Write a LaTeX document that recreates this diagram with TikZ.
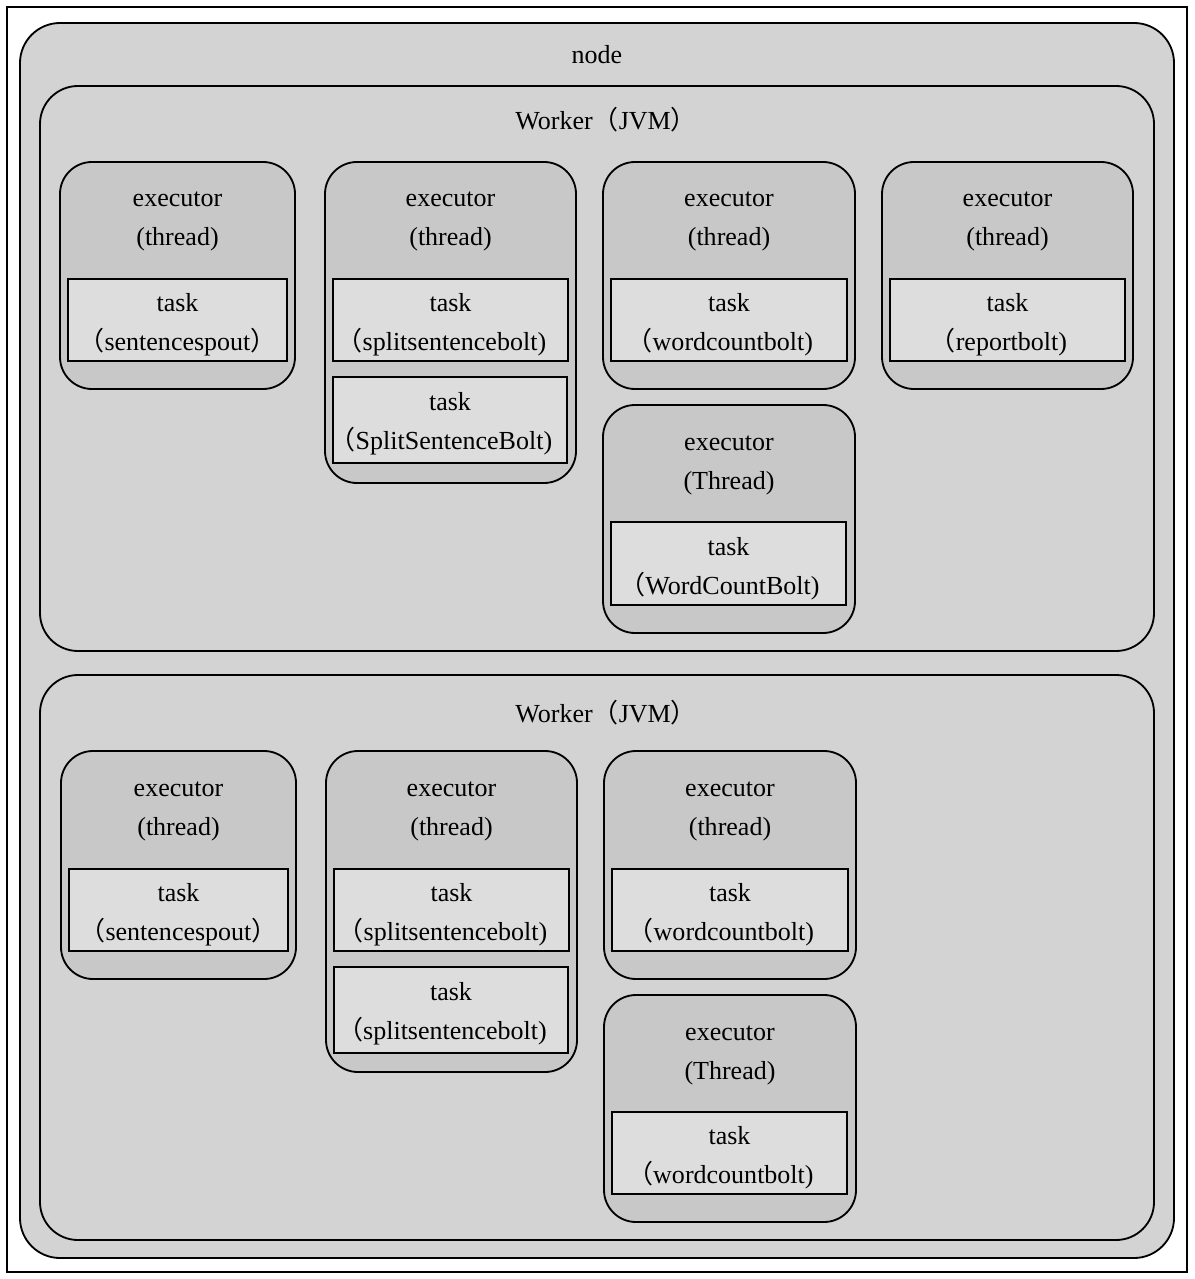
\documentclass[tikz,border=0pt]{standalone}
\usepackage{fontspec}
\setmainfont{Liberation Serif}
\newfontfamily\cjk{Noto Sans CJK SC}
\usetikzlibrary{fit}
\newcommand{\lp}{{\cjk （}}
\newcommand{\rp}{{\cjk ）}}
\newcommand{\hp}{\hspace*{-0.7em}}
\definecolor{nodegray}{HTML}{D3D3D3}
\definecolor{execgray}{HTML}{C8C8C8}
\definecolor{taskgray}{HTML}{DDDDDD}
\tikzset{
  box/.style={draw, line width=1.3pt, inner sep=0pt},
  nodebox/.style={box, fill=nodegray, rounded corners=1cm},
  workerbox/.style={box, fill=nodegray, rounded corners=0.95cm},
  execbox/.style={box, fill=execgray, rounded corners=0.8cm},
  taskbox/.style={box, fill=taskgray},
  txt/.style={align=center, inner sep=0pt, font=\fontsize{18.5}{27.7}\selectfont}
}
\begin{document}
\begin{tikzpicture}[x=0.025cm, y=-0.025cm]
  \useasboundingbox[fill=white] (0,0) rectangle (1194,1279);
  \draw[line width=1.3pt] (7,7) rectangle (1187,1272);
  % node
  \node (n) [nodebox, fit={(20,23) (1174,1258)}] {};
  \node (nt) at (597,55) [txt] {node};
  % first worker
  \node (w1) [workerbox, fit={(40,86) (1154,651)}] {};
  \node (w1t) at (597,120) [txt] {Worker\lp JVM\rp\hp};
  \node (w1e1) [execbox, fit={(60,162) (295,389)}] {};
  \node (w1e2) [execbox, fit={(325,162) (576,483)}] {};
  \node (w1e3) [execbox, fit={(603,162) (855,389)}] {};
  \node (w1e4) [execbox, fit={(882,162) (1133,389)}] {};
  \node (w1e5) [execbox, fit={(603,405) (855,633)}] {};
  \node (w1e1t) at (177.5,221.5) [txt] {executor\\(thread)};
  \node (w1e2t) at (450.5,221.5) [txt] {executor\\(thread)};
  \node (w1e3t) at (729,221.5) [txt] {executor\\(thread)};
  \node (w1e4t) at (1007.5,221.5) [txt] {executor\\(thread)};
  \node (w1e5t) at (729,465) [txt] {executor\\(Thread)};
  \node (w1k1) [taskbox, fit={(68,279) (287,361)}] {};
  \node (w1k2) [taskbox, fit={(333,279) (568,361)}] {};
  \node (w1k3) [taskbox, fit={(333,377) (567,463)}] {};
  \node (w1k4) [taskbox, fit={(611,279) (847,361)}] {};
  \node (w1k5) [taskbox, fit={(890,279) (1125,361)}] {};
  \node (w1k6) [taskbox, fit={(611,522) (846,605)}] {};
  \node (w1k1t) at (177.5,325) [txt] {task\\\lp sentencespout\rp};
  \node (w1k2t) at (450.5,325) [txt] {task\\\hp\lp splitsentencebolt)};
  \node (w1k3t) at (450,424) [txt] {task\\\hp\lp SplitSentenceBolt)};
  \node (w1k4t) at (729,325) [txt] {task\\\hp\lp wordcountbolt)};
  \node (w1k5t) at (1007.5,325) [txt] {task\\\hp\lp reportbolt)};
  \node (w1k6t) at (728.5,568.5) [txt] {task\\\hp\lp WordCountBolt)};
  % second worker
  \node (w2) [workerbox, fit={(40,675) (1154,1240)}] {};
  \node (w2t) at (597,713) [txt] {Worker\lp JVM\rp\hp};
  \node (w2e1) [execbox, fit={(61,751) (296,979)}] {};
  \node (w2e2) [execbox, fit={(326,751) (577,1072)}] {};
  \node (w2e3) [execbox, fit={(604,751) (856,979)}] {};
  \node (w2e5) [execbox, fit={(604,995) (856,1222)}] {};
  \node (w2e1t) at (178.5,811) [txt] {executor\\(thread)};
  \node (w2e2t) at (451.5,811) [txt] {executor\\(thread)};
  \node (w2e3t) at (730,811) [txt] {executor\\(thread)};
  \node (w2e5t) at (730,1055) [txt] {executor\\(Thread)};
  \node (w2k1) [taskbox, fit={(69,869) (288,951)}] {};
  \node (w2k2) [taskbox, fit={(334,869) (569,951)}] {};
  \node (w2k3) [taskbox, fit={(334,967) (568,1053)}] {};
  \node (w2k4) [taskbox, fit={(612,869) (848,951)}] {};
  \node (w2k6) [taskbox, fit={(612,1112) (847,1194)}] {};
  \node (w2k1t) at (178.5,915) [txt] {task\\\lp sentencespout\rp};
  \node (w2k2t) at (451.5,915) [txt] {task\\\hp\lp splitsentencebolt)};
  \node (w2k3t) at (451,1014) [txt] {task\\\hp\lp splitsentencebolt)};
  \node (w2k4t) at (730,915) [txt] {task\\\hp\lp wordcountbolt)};
  \node (w2k6t) at (729.5,1158) [txt] {task\\\hp\lp wordcountbolt)};
\end{tikzpicture}
\end{document}
